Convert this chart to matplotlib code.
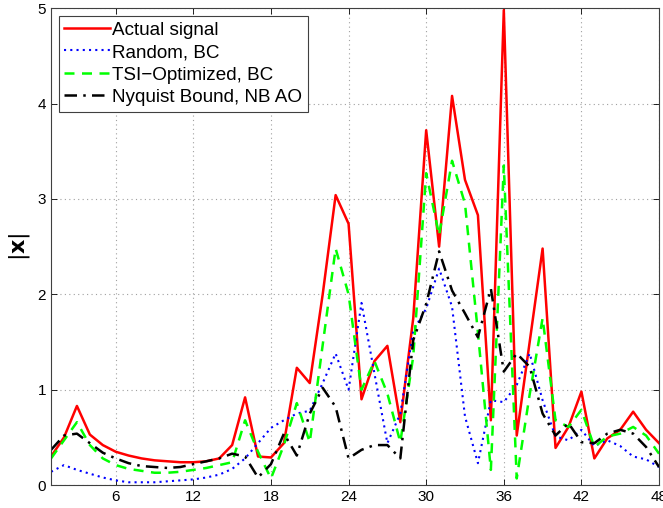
import numpy as np
from matplotlib import pyplot as plt

# sample index 1..48
n = np.arange(1, 49)

actual = [0.30, 0.50, 0.83, 0.53, 0.42, 0.35, 0.31, 0.28, 0.26, 0.25,
          0.24, 0.24, 0.25, 0.28, 0.42, 0.92, 0.30, 0.29, 0.44, 1.23,
          1.07, 2.00, 3.04, 2.74, 0.90, 1.30, 1.46, 0.66, 1.75, 3.72,
          2.50, 4.08, 3.20, 2.83, 0.68, 4.98, 0.52, 1.50, 2.48, 0.39,
          0.61, 0.98, 0.28, 0.49, 0.58, 0.77, 0.58, 0.44]

random_bc = [0.14, 0.21, 0.16, 0.12, 0.08, 0.05, 0.03, 0.03, 0.03, 0.04,
             0.05, 0.06, 0.08, 0.11, 0.17, 0.28, 0.44, 0.60, 0.68, 0.75,
             0.78, 1.07, 1.38, 1.00, 1.91, 1.17, 0.44, 0.75, 1.62, 1.85,
             2.27, 1.87, 0.72, 0.23, 0.89, 0.87, 1.05, 1.38, 0.89, 0.51,
             0.47, 0.58, 0.41, 0.47, 0.41, 0.30, 0.27, 0.19]

tsi_bc = [0.28, 0.47, 0.66, 0.42, 0.28, 0.21, 0.17, 0.15, 0.13, 0.13,
          0.14, 0.16, 0.18, 0.21, 0.24, 0.68, 0.35, 0.07, 0.42, 0.86,
          0.45, 1.47, 2.48, 2.00, 1.00, 1.30, 0.96, 0.45, 1.35, 3.27,
          2.62, 3.40, 2.95, 1.60, 0.16, 3.35, 0.07, 0.95, 1.75, 0.68,
          0.61, 0.79, 0.40, 0.51, 0.54, 0.61, 0.52, 0.33]

nyquist_ao = [0.37, 0.52, 0.54, 0.44, 0.34, 0.28, 0.23, 0.20, 0.19, 0.18,
              0.19, 0.22, 0.25, 0.28, 0.33, 0.30, 0.08, 0.22, 0.54, 0.31,
              0.75, 1.02, 0.82, 0.28, 0.37, 0.42, 0.42, 0.28, 1.52, 1.90,
              2.45, 2.04, 1.80, 1.55, 2.06, 1.19, 1.38, 1.24, 0.75, 0.52,
              0.65, 0.45, 0.44, 0.54, 0.58, 0.54, 0.40, 0.19]

labels = ['Actual signal', 'Random, BC', 'TSI\u2212Optimized, BC', 'Nyquist Bound, NB AO']

plt.rcParams['font.family'] = ['Liberation Sans', 'DejaVu Sans']

fig = plt.figure(figsize=(6.63, 5.08), dpi=100)
ax = fig.add_axes([0.077, 0.045, 0.917, 0.939])

ax.plot(n, actual, color='#ff0000', lw=1.8, label=labels[0])
ax.plot(n, random_bc, color='#0000ff', lw=1.5, ls=(0, (1, 2)), label=labels[1])
ax.plot(n, tsi_bc, color='#00ff00', lw=1.8, ls=(0, (4, 3)), label=labels[2])
ax.plot(n, nyquist_ao, color='black', lw=1.8, ls=(0, (5, 2.5, 1, 2.5)), label=labels[3])

ax.set_xlim(1, 48)
ax.set_ylim(0, 5)
ax.set_xticks(np.arange(6, 49, 6))
ax.set_yticks(np.arange(0, 6, 1))
ax.tick_params(direction='in', top=True, right=True, length=4, labelsize=11, width=0.6)
ax.grid(True, ls=(0, (1, 3)), color='#a0a0a0', lw=0.8)
for s in ax.spines.values():
    s.set_linewidth(0.8)
    s.set_color('#404040')

ax.set_ylabel(r'$|\mathbf{x}|$', fontsize=16, labelpad=4)

leg = ax.legend(loc='upper left', fontsize=13.6, handlelength=2.4, handletextpad=0.15,
                borderaxespad=0.4, borderpad=0.3, labelspacing=0.28,
                fancybox=False, framealpha=1)
leg.get_frame().set_edgecolor('#404040')
leg.get_frame().set_linewidth(0.8)

plt.savefig('out.png', dpi=100)
plt.close()
